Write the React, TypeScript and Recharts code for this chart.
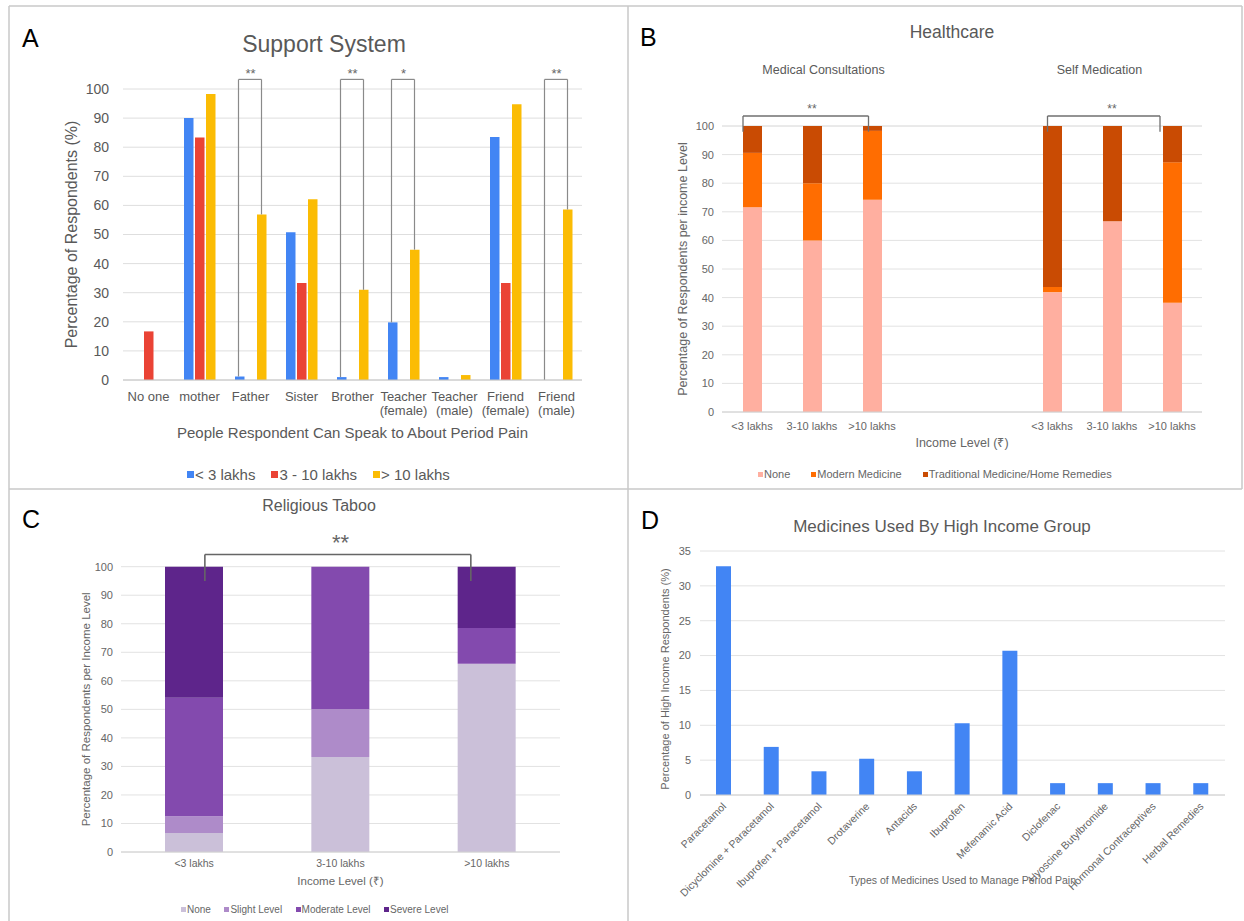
import { BarChart, Bar, XAxis, YAxis, CartesianGrid, ReferenceLine } from "recharts"

const FONT = '"Liberation Sans", Arial, Helvetica, sans-serif'

// A - support system
const supportCategories = ['No one', 'mother', 'Father', 'Sister', 'Brother', 'Teacher\n(female)', 'Teacher\n(male)', 'Friend\n(female)', 'Friend\n(male)']
const supportLow = [0, 90, 1.2, 50.8, 1, 19.8, 1, 83.5, 0]
const supportMid = [16.7, 83.3, 0, 33.3, 0, 0, 0, 33.3, 0]
const supportHigh = [0, 98.3, 56.9, 62.1, 31, 44.8, 1.7, 94.8, 58.6]
const supportSeries = ['< 3 lakhs', '3 - 10 lakhs', '> 10 lakhs']
const supportColors = ['#4285f4', '#ea4335', '#fbbc04']
const supportMarks = [
  { category: 'Father', mark: '**' },
  { category: 'Brother', mark: '**' },
  { category: 'Teacher\n(female)', mark: '*' },
  { category: 'Friend\n(male)', mark: '**' },
]
const percentTicks = [0, 10, 20, 30, 40, 50, 60, 70, 80, 90, 100]

// B - healthcare
const healthKeys = ['mc1', 'mc2', 'mc3', 'gap1', 'gap2', 'sm1', 'sm2', 'sm3']
const healthLabels = ['<3 lakhs', '3-10 lakhs', '>10 lakhs', '', '', '<3 lakhs', '3-10 lakhs', '>10 lakhs']
const healthNone = [71.6, 60, 74.2, null, null, 41.9, 66.7, 38.2]
const healthModern = [19, 20, 24.1, null, null, 1.8, 0, 49.1]
const healthTraditional = [9.4, 20, 1.7, null, null, 56.3, 33.3, 12.7]
const healthSeries = ['None', 'Modern Medicine', 'Traditional Medicine/Home Remedies']
const healthColors = ['#ffafa0', '#ff6d01', '#c94b03']
const healthBrackets = [
  { from: 'mc1', to: 'mc3', mark: '**' },
  { from: 'sm1', to: 'sm3', mark: '**' },
]

// C - religious taboo
const incomeLevels = ['<3 lakhs', '3-10 lakhs', '>10 lakhs']
const tabooNone = [6.7, 33.3, 66]
const tabooSlight = [5.8, 16.7, 0]
const tabooModerate = [41.6, 50, 12.5]
const tabooSevere = [45.9, 0, 21.5]
const tabooSeries = ['None', 'Slight Level', 'Moderate Level', 'Severe Level']
const tabooColors = ['#cbc0d9', '#ae8bc9', '#834aae', '#5e258b']

// D - medicines
const medicines = ['Paracetamol', 'Dicyclomine + Paracetamol', 'Ibuprofen + Paracetamol', 'Drotaverine', 'Antacids', 'Ibuprofen', 'Mefenamic Acid', 'Diclofenac', 'Hyoscine Butylbromide', 'Hormonal Contraceptives', 'Herbal Remedies']
const medicineShare = [32.8, 6.9, 3.4, 5.2, 3.4, 10.3, 20.7, 1.7, 1.7, 1.7, 1.7]
const medicineTicks = [0, 5, 10, 15, 20, 25, 30, 35]

const supportData = supportCategories.map((name, i) => ({ name, low: supportLow[i], mid: supportMid[i], high: supportHigh[i] }))
const healthData = healthKeys.map((key, i) => ({ key, none: healthNone[i], modern: healthModern[i], traditional: healthTraditional[i] }))
const tabooData = incomeLevels.map((name, i) => ({ name, none: tabooNone[i], slight: tabooSlight[i], moderate: tabooModerate[i], severe: tabooSevere[i] }))
const medicineData = medicines.map((name, i) => ({ name, share: medicineShare[i] }))

const shifted = (dxa: number, dxb: number, stroke: string, w: number) => (p: any) => (
  <line x1={p.x1 + dxa} y1={p.y1} x2={p.x2 + dxb} y2={p.y2} stroke={stroke} strokeWidth={w} />
)

function bracket(id: string, x1: any, x2: any, leg1: number, leg2: number, top: number, dx1: number, dx2: number,
  mark: string, opts: { stroke: string; width: number; fontSize: number; offset: number }) {
  return [
    <ReferenceLine key={id + 'l'} segment={[{ x: x1, y: leg1 }, { x: x1, y: top }]} ifOverflow="visible" shape={shifted(dx1, dx1, opts.stroke, opts.width)} />,
    <ReferenceLine key={id + 'r'} segment={[{ x: x2, y: leg2 }, { x: x2, y: top }]} ifOverflow="visible" shape={shifted(dx2, dx2, opts.stroke, opts.width)} />,
    <ReferenceLine key={id + 't'} segment={[{ x: x1, y: top }, { x: x2, y: top }]} ifOverflow="visible" shape={shifted(dx1, dx2, opts.stroke, opts.width)}
      label={{ value: mark, position: 'top', offset: opts.offset, fill: '#666', fontSize: opts.fontSize }} />,
  ]
}

function SupportTick({ x, y, payload }: any) {
  const lines = String(payload.value).split('\n')
  return (
    <text x={x} y={y} textAnchor="middle" fill="#595959" fontSize={13}>
      {lines.map((l, i) => (
        <tspan key={i} x={x} dy={i === 0 ? 13.3 : 13.5}>{l}</tspan>
      ))}
    </text>
  )
}

function MedicineTick({ x, y, payload }: any) {
  const px = x + 3
  const py = y + 4
  return (
    <text x={px} y={py} transform={`rotate(-45, ${px}, ${py})`} textAnchor="end" fill="#666" fontSize={10.5}>
      {payload.value}
    </text>
  )
}

function Legend({ items, colors, left, top, fontSize, square, gap, color }: any) {
  return (
    <div style={{ position: 'absolute', left, top, display: 'flex', alignItems: 'center', gap, fontSize, lineHeight: `${fontSize}px`, color, whiteSpace: 'nowrap' }}>
      {items.map((label: string, i: number) => (
        <span key={label} style={{ display: 'flex', alignItems: 'center' }}>
          <span style={{ width: square, height: square, background: colors[i], display: 'inline-block', marginRight: 1 }} />
          {label}
        </span>
      ))}
    </div>
  )
}

const abs = (left: number, top: number) => ({ position: 'absolute' as const, left, top })

export default function App() {
  const border = '#c8c8c8'
  return (
    <div style={{ position: 'absolute', left: 0, top: 0, width: 1244, height: 921, background: '#fff', fontFamily: FONT, overflow: 'hidden' }}>
      <svg width={1244} height={921} style={abs(0, 0)}>
        <g stroke={border} strokeWidth={1.5}>
          <line x1={9} y1={6} x2={1242} y2={6} />
          <line x1={9} y1={489} x2={1242} y2={489} />
          <line x1={9} y1={6} x2={9} y2={921} />
          <line x1={628} y1={6} x2={628} y2={921} />
          <line x1={1242} y1={6} x2={1242} y2={489} />
        </g>
        <g fill="#000" fontSize={25}>
          <text x={22} y={46.5}>A</text>
          <text x={640} y={46}>B</text>
          <text x={22} y={528}>C</text>
          <text x={641} y={529}>D</text>
        </g>
        <g fill="#595959" textAnchor="middle">
          <text x={324} y={52} fontSize={23}>Support System</text>
          <text x={952} y={38.3} fontSize={17.5}>Healthcare</text>
          <text x={823.5} y={73.5} fontSize={12.5}>Medical Consultations</text>
          <text x={1099.5} y={73.5} fontSize={12.5}>Self Medication</text>
          <text x={319} y={511} fontSize={16}>Religious Taboo</text>
          <text x={942} y={532} fontSize={17}>Medicines Used By High Income Group</text>
        </g>
      </svg>

      {/* A */}
      <div style={abs(10, 8)}>
        <BarChart width={618} height={479} data={supportData} margin={{ top: 81, right: 46, bottom: 47, left: 53 }} barSize={9.5} barGap={1.5}>
          <CartesianGrid vertical={false} stroke="#dedede" />
          <XAxis dataKey="name" interval={0} tickLine={false} axisLine={{ stroke: '#c4c4c4' }} height={60} tick={<SupportTick />}
            label={{ value: 'People Respondent Can Speak to About Period Pain', position: 'insideBottom', offset: 2, fill: '#595959', fontSize: 15 }} />
          <YAxis domain={[0, 100]} ticks={percentTicks} width={60} axisLine={false} tickLine={false} tickMargin={8}
            tick={{ fill: '#595959', fontSize: 14 }}
            label={{ value: 'Percentage of Respondents (%)', angle: -90, position: 'insideLeft', offset: 8, fill: '#595959', fontSize: 16, style: { textAnchor: 'middle' } }} />
          <Bar dataKey="low" name={supportSeries[0]} fill={supportColors[0]} isAnimationActive={false} />
          <Bar dataKey="mid" name={supportSeries[1]} fill={supportColors[1]} isAnimationActive={false} />
          <Bar dataKey="high" name={supportSeries[2]} fill={supportColors[2]} isAnimationActive={false} />
          {supportMarks.map((m) => {
            const i = supportCategories.indexOf(m.category)
            return bracket('s' + i, m.category, m.category, supportLow[i], supportHigh[i], 103.3, -12, 11, m.mark,
              { stroke: '#8a8a8a', width: 1.2, fontSize: 13, offset: 1 })
          })}
        </BarChart>
      </div>
      <Legend items={supportSeries} colors={supportColors} left={187} top={466.5} fontSize={15} square={7} gap={16} color="#595959" />

      {/* B */}
      <div style={abs(628, 8)}>
        <BarChart width={616} height={479} data={healthData} margin={{ top: 118, right: 42, bottom: 35, left: 50 }} barSize={19}>
          <CartesianGrid vertical={false} stroke="#e2e2e2" />
          <XAxis dataKey="key" interval={0} tickLine={false} axisLine={{ stroke: '#d0d0d0' }} height={40} tickMargin={4}
            tick={{ fill: '#666', fontSize: 11 }} tickFormatter={(_v: any, i: number) => healthLabels[i]}
            label={{ value: 'Income Level (₹)', position: 'insideBottom', offset: 4.6, fill: '#666', fontSize: 12.5 }} />
          <YAxis domain={[0, 100]} ticks={percentTicks} width={44} axisLine={false} tickLine={false} tickMargin={2}
            tick={{ fill: '#666', fontSize: 11 }}
            label={{ value: 'Percentage of Respondents per income Level', angle: -90, position: 'insideLeft', offset: 5, fill: '#666', fontSize: 12.5, style: { textAnchor: 'middle' } }} />
          <Bar dataKey="none" stackId="a" name={healthSeries[0]} fill={healthColors[0]} isAnimationActive={false} />
          <Bar dataKey="modern" stackId="a" name={healthSeries[1]} fill={healthColors[1]} isAnimationActive={false} />
          <Bar dataKey="traditional" stackId="a" name={healthSeries[2]} fill={healthColors[2]} isAnimationActive={false} />
          {bracket('h0', healthBrackets[0].from, healthBrackets[0].to, 98, 98, 103.5, -9, -3.5, healthBrackets[0].mark,
            { stroke: '#6f6f6f', width: 1.3, fontSize: 12, offset: 3 })}
          {bracket('h1', healthBrackets[1].from, healthBrackets[1].to, 98, 98, 103.5, -4.5, -12, healthBrackets[1].mark,
            { stroke: '#6f6f6f', width: 1.3, fontSize: 12, offset: 3 })}
        </BarChart>
      </div>
      <Legend items={healthSeries} colors={healthColors} left={758} top={468.5} fontSize={11} square={5} gap={21} color="#666" />

      {/* C */}
      <div style={abs(0, 487)}>
        <BarChart width={628} height={434} data={tabooData} margin={{ top: 79.7, right: 68, bottom: 29, left: 81 }} barSize={58}>
          <CartesianGrid vertical={false} stroke="#e2e2e2" />
          <XAxis dataKey="name" interval={0} tickLine={false} axisLine={{ stroke: '#d0d0d0' }} height={40}
            tick={{ fill: '#666', fontSize: 10.5 }}
            label={{ value: 'Income Level (₹)', position: 'insideBottom', offset: 7, fill: '#666', fontSize: 11.5 }} />
          <YAxis domain={[0, 100]} ticks={percentTicks} width={40} axisLine={false} tickLine={false} tickMargin={2}
            tick={{ fill: '#666', fontSize: 11 }}
            label={{ value: 'Percentage of Respondents per Income Level', angle: -90, position: 'insideLeft', offset: 5, fill: '#666', fontSize: 11.5, style: { textAnchor: 'middle' } }} />
          <Bar dataKey="none" stackId="a" name={tabooSeries[0]} fill={tabooColors[0]} isAnimationActive={false} />
          <Bar dataKey="slight" stackId="a" name={tabooSeries[1]} fill={tabooColors[1]} isAnimationActive={false} />
          <Bar dataKey="moderate" stackId="a" name={tabooSeries[2]} fill={tabooColors[2]} isAnimationActive={false} />
          <Bar dataKey="severe" stackId="a" name={tabooSeries[3]} fill={tabooColors[3]} isAnimationActive={false} />
          {bracket('t0', incomeLevels[0], incomeLevels[2], 95, 95, 104.3, 10.7, -16, '**',
            { stroke: '#666', width: 1.6, fontSize: 22, offset: 4 })}
        </BarChart>
      </div>
      <Legend items={tabooSeries} colors={tabooColors} left={181} top={904.8} fontSize={10} square={5} gap={13.5} color="#666" />

      {/* D */}
      <div style={abs(628, 487)}>
        <BarChart width={616} height={434} data={medicineData} margin={{ top: 64, right: 19, bottom: 26, left: 32 }} barSize={15}>
          <CartesianGrid vertical={false} stroke="#e2e2e2" />
          <XAxis dataKey="name" interval={0} tickLine={false} axisLine={{ stroke: '#d0d0d0' }} height={100} tick={<MedicineTick />}
            label={{ value: 'Types of Medicines Used to Manage Period Pain', position: 'insideBottom', offset: 11, fill: '#666', fontSize: 10.5 }} />
          <YAxis domain={[0, 35]} ticks={medicineTicks} width={40} axisLine={false} tickLine={false} tickMargin={3}
            tick={{ fill: '#666', fontSize: 11 }}
            label={{ value: 'Percentage of High Income Respondents (%)', angle: -90, position: 'insideLeft', offset: 5.5, dy: 6, fill: '#666', fontSize: 11, style: { textAnchor: 'middle' } }} />
          <Bar dataKey="share" fill="#4285f4" isAnimationActive={false} />
        </BarChart>
      </div>
    </div>
  )
}
